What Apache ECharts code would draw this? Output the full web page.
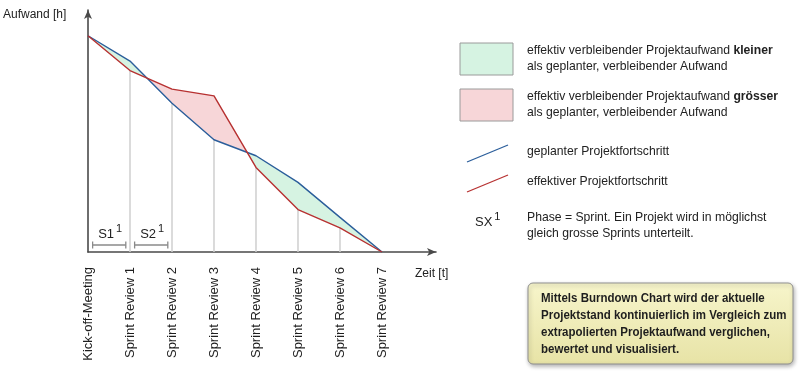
<!DOCTYPE html>
<html>
<head>
<meta charset="utf-8">
<script src="https://cdn.jsdelivr.net/npm/echarts@6/dist/echarts.min.js"></script>
<style>html,body{margin:0;padding:0;background:#fff}#c{width:800px;height:372px}</style>
</head>
<body>
<div id="c"></div>
<script>
const categories = ['Kick-off-Meeting','Sprint Review 1','Sprint Review 2','Sprint Review 3','Sprint Review 4','Sprint Review 5','Sprint Review 6','Sprint Review 7'];
const planned = [100, 88.3, 68.8, 51.9, 44.5, 32.2, 16.0, 0];
const actual  = [100, 83.9, 75.3, 72.2, 39.1, 19.6, 11.2, 0];
const sprints = [{name:'S1', from:0.11, to:0.9}, {name:'S2', from:1.11, to:1.9}];

const FONT = '"Liberation Sans", Arial, Helvetica, sans-serif';
const GREEN = '#d6f3e2', PINK = '#f7d6d8', BLUE = '#2b5e9b', RED = '#b73131';

const chart = echarts.init(document.getElementById('c'), null, {renderer:'canvas'});

const segData = [];
for (let i = 0; i < categories.length - 1; i++) segData.push([i, planned[i], actual[i], planned[i+1], actual[i+1]]);
const vlData = [];
for (let i = 1; i < categories.length - 1; i++) vlData.push([i, Math.max(planned[i], actual[i])]);

function fillItem(params, api) {
  const i = api.value(0);
  const p0 = api.coord([i, api.value(1)]), a0 = api.coord([i, api.value(2)]);
  const p1 = api.coord([i+1, api.value(3)]), a1 = api.coord([i+1, api.value(4)]);
  const d0 = api.value(2) - api.value(1), d1 = api.value(4) - api.value(3);
  const col = d => d > 0 ? PINK : GREEN;
  const children = [];
  if (d0 * d1 < 0) {
    const t = d0 / (d0 - d1);
    const x = [p0[0] + (p1[0]-p0[0])*t, p0[1] + (p1[1]-p0[1])*t];
    children.push({type:'polygon', shape:{points:[p0, x, a0]}, style:{fill:col(d0)}});
    children.push({type:'polygon', shape:{points:[x, p1, a1]}, style:{fill:col(d1)}});
  } else {
    children.push({type:'polygon', shape:{points:[p0, p1, a1, a0]}, style:{fill:col(d0 !== 0 ? d0 : d1)}});
  }
  return {type:'group', children};
}

function vlineItem(params, api) {
  const b = api.coord([api.value(0), 0]), t = api.coord([api.value(0), api.value(1)]);
  return {type:'line', shape:{x1:b[0], y1:b[1], x2:t[0], y2:t[1]}, style:{stroke:'#cfcfcf', lineWidth:1.5}};
}

function bracketItem(params, api) {
  const s = sprints[params.dataIndex];
  const l = api.coord([s.from, 0]), r = api.coord([s.to, 0]);
  const y = l[1] - 7;
  const st = {stroke:'#8a8a8a', lineWidth:1.3};
  return {type:'group', children:[
    {type:'line', shape:{x1:l[0], y1:y, x2:r[0], y2:y}, style:st},
    {type:'line', shape:{x1:l[0], y1:y-3.5, x2:l[0], y2:y+3.5}, style:st},
    {type:'line', shape:{x1:r[0], y1:y-3.5, x2:r[0], y2:y+3.5}, style:st},
    {type:'text', x:(l[0]+r[0])/2 + 1, y:y - 11, style:{
      text: s.name + '{sup|1}', fill:'#222', font:'13px ' + FONT, align:'center', verticalAlign:'middle',
      rich:{sup:{fontSize:11, fontFamily:FONT, padding:[0,0,10,2], fill:'#222'}}
    }}
  ]};
}

const option = {
  animation:false,
  grid:{left:88, right:364, top:10, bottom:120},
  xAxis:{
    type:'value', min:0, max:8.286, interval:1,
    axisLine:{show:true, symbol:['none','arrow'], symbolSize:[6,9], lineStyle:{color:'#4a4a4a', width:1.6}},
    axisTick:{show:false}, splitLine:{show:false},
    axisLabel:{rotate:90, margin:15, color:'#1e1e1e', fontSize:13, fontFamily:FONT, showMaxLabel:false,
      formatter: v => (Number.isInteger(v) && categories[v]) ? categories[v] : ''}
  },
  yAxis:{
    type:'value', min:0, max:111.9,
    axisLine:{show:true, symbol:['none','arrow'], symbolSize:[6,9], lineStyle:{color:'#4a4a4a', width:1.6}},
    axisTick:{show:false}, splitLine:{show:false}, axisLabel:{show:false}
  },
  series:[
    {type:'custom', renderItem:vlineItem, data:vlData, encode:{x:0, y:1}, z:1, silent:true},
    {type:'custom', renderItem:fillItem, data:segData, encode:{x:0, y:[1,2]}, z:2, silent:true},
    {type:'custom', renderItem:bracketItem, data:sprints.map(s => [s.from, 0]), encode:{x:0, y:1}, z:3, silent:true},
    {type:'line', data:planned.map((v,i)=>[i,v]), symbol:'none', lineStyle:{color:BLUE, width:1.4}, z:4},
    {type:'line', data:actual.map((v,i)=>[i,v]), symbol:'none', lineStyle:{color:RED, width:1.4}, z:5}
  ],
  graphic:[
    {type:'text', left:3, top:9, style:{text:'Aufwand [h]', font:'12px ' + FONT, fill:'#222'}},
    {type:'text', left:415, top:268, style:{text:'Zeit [t]', font:'12px ' + FONT, fill:'#222'}},
    {type:'rect', shape:{x:460, y:43, width:53, height:32}, style:{fill:GREEN, stroke:'#9a9a9a', lineWidth:1}},
    {type:'text', x:527, y:59, style:{text:'effektiv verbleibender Projektaufwand {b|kleiner}\nals geplanter, verbleibender Aufwand',
      font:'12.2px ' + FONT, fill:'#222', lineHeight:16, verticalAlign:'middle',
      rich:{b:{fontWeight:'bold', fontSize:12.2, fontFamily:FONT, fill:'#222'}}}},
    {type:'rect', shape:{x:460, y:89, width:53, height:32}, style:{fill:PINK, stroke:'#9a9a9a', lineWidth:1}},
    {type:'text', x:527, y:105, style:{text:'effektiv verbleibender Projektaufwand {b|grösser}\nals geplanter, verbleibender Aufwand',
      font:'12.2px ' + FONT, fill:'#222', lineHeight:16, verticalAlign:'middle',
      rich:{b:{fontWeight:'bold', fontSize:12.2, fontFamily:FONT, fill:'#222'}}}},
    {type:'line', shape:{x1:467, y1:162, x2:508, y2:145}, style:{stroke:BLUE, lineWidth:1.3}},
    {type:'text', x:527, y:152, style:{text:'geplanter Projektfortschritt', font:'12.2px ' + FONT, fill:'#222', verticalAlign:'middle'}},
    {type:'line', shape:{x1:467, y1:192, x2:508, y2:175}, style:{stroke:RED, lineWidth:1.3}},
    {type:'text', x:527, y:182, style:{text:'effektiver Projektfortschritt', font:'12.2px ' + FONT, fill:'#222', verticalAlign:'middle'}},
    {type:'text', x:475, y:222, style:{text:'SX{sup|1}', font:'13px ' + FONT, fill:'#222', verticalAlign:'middle',
      rich:{sup:{fontSize:11, fontFamily:FONT, padding:[0,0,10,2], fill:'#222'}}}},
    {type:'text', x:527, y:226, style:{text:'Phase = Sprint. Ein Projekt wird in möglichst\ngleich grosse Sprints unterteilt.',
      font:'12.2px ' + FONT, fill:'#222', lineHeight:16, verticalAlign:'middle'}},
    {type:'rect', shape:{x:528, y:283, width:265, height:81, r:5},
      style:{fill:new echarts.graphic.LinearGradient(0,0,0,1,[{offset:0,color:'#f7f5cb'},{offset:1,color:'#e7e3a6'}]),
        stroke:'#8f8f8f', lineWidth:1, shadowBlur:4, shadowOffsetX:1, shadowOffsetY:2, shadowColor:'rgba(0,0,0,0.3)'}},
    {type:'text', x:541, y:324, scaleX:0.885, style:{text:'Mittels Burndown Chart wird der aktuelle\nProjektstand kontinuierlich im Vergleich zum\nextrapolierten Projektaufwand verglichen,\nbewertet und visualisiert.',
      font:'bold 13px ' + FONT, fill:'#1e1e1e', lineHeight:17, verticalAlign:'middle'}}
  ]
};
chart.setOption(option);
</script>
</body>
</html>
